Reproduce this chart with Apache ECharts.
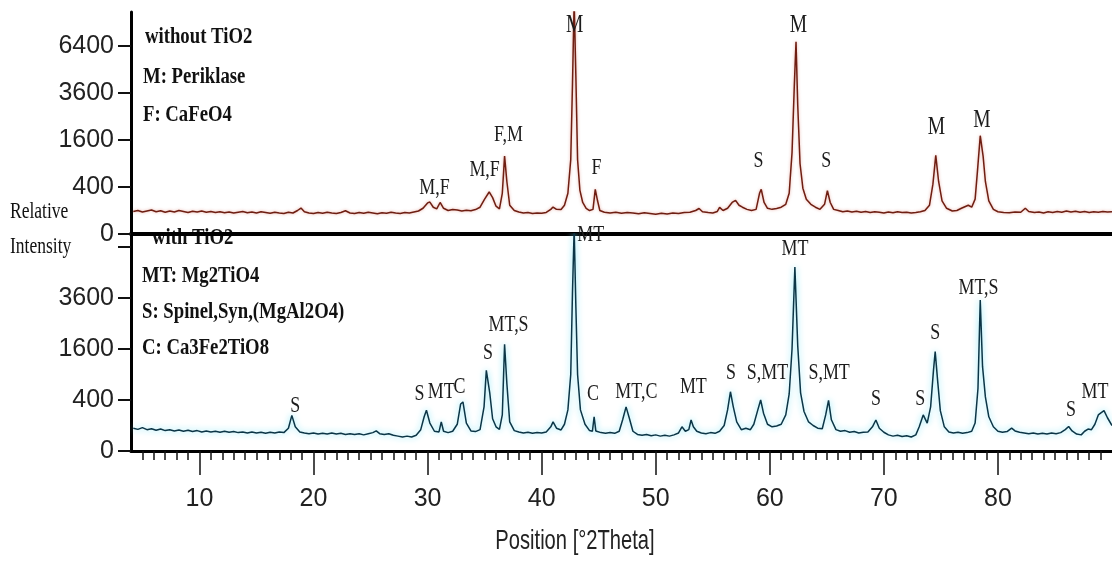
<!DOCTYPE html>
<html>
<head>
<meta charset="utf-8">
<script src="https://cdn.jsdelivr.net/npm/echarts@6/dist/echarts.min.js"></script>
<style>
html,body{margin:0;padding:0;background:#fff;}
#c{width:1112px;height:565px;}
</style>
</head>
<body>
<div id="c"></div>
<script>
// ---- data: [2Theta, counts] ----
const withoutTiO2 = [[4.2,92],[4.6,100],[5.0,88],[5.4,96],[5.8,104],[6.2,90],[6.6,98],[7.0,86],[7.4,95],[7.8,88],[8.2,100],[8.6,92],[9.0,84],[9.4,94],[9.8,88],[10.2,96],[10.6,86],[11.0,92],[11.4,84],[11.8,90],[12.2,82],[12.6,88],[13.0,80],[13.4,86],[13.8,92],[14.2,82],[14.6,88],[15.0,80],[15.4,90],[15.8,84],[16.2,78],[16.6,86],[17.0,80],[17.4,76],[17.8,86],[18.2,80],[18.6,100],[18.9,122],[19.2,90],[19.6,80],[20.0,76],[20.4,84],[20.8,78],[21.2,86],[21.6,80],[22.0,76],[22.4,84],[22.8,98],[23.2,80],[23.6,76],[24.0,84],[24.4,78],[24.8,86],[25.2,80],[25.6,74],[26.0,82],[26.4,78],[26.8,86],[27.2,80],[27.6,76],[28.0,84],[28.4,80],[28.8,88],[29.2,96],[29.6,120],[30.0,175],[30.2,185],[30.5,130],[30.8,115],[31.1,180],[31.4,120],[31.8,100],[32.2,108],[32.6,104],[33.0,96],[33.4,102],[33.8,98],[34.2,108],[34.6,130],[35.0,220],[35.4,320],[35.7,240],[36.0,140],[36.3,115],[36.55,300],[36.75,1100],[36.95,500],[37.2,150],[37.6,100],[38.0,88],[38.4,80],[38.8,84],[39.2,76],[39.6,80],[40.0,78],[40.4,84],[40.8,110],[41.0,132],[41.3,110],[41.7,108],[42.0,150],[42.3,300],[42.55,1000],[42.7,4000],[42.85,9800],[43.0,4500],[43.15,1000],[43.35,350],[43.6,180],[43.9,120],[44.2,100],[44.5,110],[44.7,360],[44.9,200],[45.1,100],[45.5,86],[46.0,80],[46.5,86],[47.0,78],[47.5,84],[48.0,80],[48.5,74],[49.0,82],[49.5,76],[50.0,70],[50.5,78],[51.0,72],[51.5,80],[52.0,76],[52.5,84],[53.0,86],[53.5,100],[53.8,118],[54.1,90],[54.6,84],[55.0,80],[55.4,92],[55.6,128],[55.9,100],[56.3,120],[56.7,180],[57.0,205],[57.3,150],[57.6,130],[58.0,110],[58.4,100],[58.8,110],[59.1,300],[59.25,360],[59.5,180],[59.8,120],[60.2,110],[60.6,118],[61.0,130],[61.4,160],[61.7,300],[61.95,1200],[62.15,4000],[62.3,6700],[62.45,3000],[62.65,900],[62.9,380],[63.2,220],[63.6,160],[64.0,130],[64.4,110],[64.8,160],[65.05,340],[65.3,180],[65.6,110],[66.0,100],[66.4,90],[66.8,96],[67.2,88],[67.6,94],[68.0,86],[68.4,92],[68.8,84],[69.2,90],[69.6,86],[70.0,80],[70.4,88],[70.8,82],[71.2,90],[71.6,84],[72.0,86],[72.4,80],[72.8,84],[73.2,90],[73.6,100],[74.0,150],[74.3,450],[74.55,1120],[74.8,500],[75.1,200],[75.5,120],[76.0,96],[76.4,100],[76.8,120],[77.1,135],[77.4,150],[77.7,130],[78.0,220],[78.2,700],[78.45,1750],[78.7,1100],[78.9,500],[79.2,200],[79.6,110],[80.0,90],[80.5,84],[81.0,82],[81.5,88],[82.0,86],[82.4,120],[82.7,92],[83.2,84],[83.6,88],[84.0,80],[84.4,90],[84.8,84],[85.2,92],[85.6,86],[86.0,96],[86.4,88],[86.8,94],[87.2,86],[87.6,92],[88.0,84],[88.4,90],[88.8,86],[89.2,92],[89.6,88],[90.0,90]];

const withTiO2 = [[4.2,80],[4.6,72],[5.0,84],[5.4,70],[5.8,76],[6.2,66],[6.6,74],[7.0,64],[7.4,70],[7.8,62],[8.2,68],[8.6,60],[9.0,66],[9.4,58],[9.8,64],[10.2,56],[10.6,62],[11.0,56],[11.4,60],[11.8,54],[12.2,60],[12.6,54],[13.0,58],[13.4,52],[13.8,56],[14.2,50],[14.6,56],[15.0,50],[15.4,54],[15.8,48],[16.2,54],[16.6,50],[17.0,56],[17.4,52],[17.8,80],[18.1,195],[18.4,90],[18.8,56],[19.2,50],[19.6,46],[20.0,50],[20.4,44],[20.8,48],[21.2,44],[21.6,50],[22.0,44],[22.4,48],[22.8,42],[23.2,46],[23.6,42],[24.0,46],[24.4,40],[24.8,46],[25.2,52],[25.5,62],[25.8,46],[26.2,42],[26.6,46],[27.0,38],[27.4,34],[27.8,30],[28.2,34],[28.6,30],[29.0,38],[29.4,70],[29.7,180],[29.9,255],[30.2,120],[30.6,60],[31.0,56],[31.2,130],[31.4,60],[31.8,52],[32.2,60],[32.6,110],[32.9,340],[33.1,370],[33.4,120],[33.8,62],[34.2,58],[34.6,70],[34.95,300],[35.15,1000],[35.45,520],[35.7,160],[36.0,90],[36.3,72],[36.55,200],[36.75,1750],[36.95,700],[37.2,130],[37.6,64],[38.0,56],[38.4,50],[38.8,54],[39.2,48],[39.6,52],[40.0,50],[40.4,56],[40.8,90],[41.0,130],[41.3,80],[41.7,68],[42.0,110],[42.3,260],[42.55,900],[42.7,3800],[42.85,7600],[43.0,3200],[43.15,900],[43.4,260],[43.8,110],[44.2,64],[44.45,60],[44.6,180],[44.75,62],[45.2,52],[45.6,48],[46.0,52],[46.4,48],[46.8,60],[47.1,150],[47.4,300],[47.7,160],[48.0,60],[48.4,42],[48.8,38],[49.2,42],[49.6,36],[50.0,40],[50.4,34],[50.8,38],[51.2,34],[51.6,40],[52.0,50],[52.3,90],[52.6,60],[52.9,70],[53.1,148],[53.3,90],[53.6,60],[54.0,50],[54.4,46],[54.8,52],[55.2,48],[55.6,60],[56.0,100],[56.3,260],[56.55,540],[56.8,300],[57.1,130],[57.5,70],[57.9,80],[58.3,70],[58.6,110],[58.95,260],[59.2,400],[59.45,220],[59.8,110],[60.2,90],[60.6,96],[61.0,110],[61.4,200],[61.7,500],[61.95,1600],[62.2,5200],[62.45,1700],[62.7,520],[63.0,240],[63.4,130],[63.8,100],[64.2,80],[64.6,76],[64.9,200],[65.15,395],[65.4,150],[65.8,70],[66.2,60],[66.6,64],[67.0,54],[67.4,58],[67.8,50],[68.2,54],[68.6,56],[69.0,90],[69.3,148],[69.6,80],[70.0,54],[70.4,40],[70.8,34],[71.2,38],[71.6,32],[72.0,36],[72.4,30],[72.8,40],[73.1,90],[73.45,200],[73.8,120],[74.1,300],[74.35,1000],[74.5,1520],[74.7,800],[74.95,250],[75.3,90],[75.7,56],[76.1,50],[76.5,54],[76.9,48],[77.3,52],[77.7,60],[78.0,120],[78.25,600],[78.45,3500],[78.65,1100],[78.9,450],[79.2,180],[79.6,90],[80.0,60],[80.4,54],[80.8,58],[81.2,80],[81.5,62],[81.9,54],[82.3,50],[82.7,46],[83.1,50],[83.5,44],[83.9,48],[84.3,44],[84.7,50],[85.1,46],[85.5,52],[85.9,70],[86.2,92],[86.5,62],[86.9,44],[87.3,40],[87.6,60],[87.9,74],[88.2,70],[88.5,110],[88.8,200],[89.0,220],[89.3,250],[89.6,170],[90.0,100]];

// peak labels: [2Theta, counts at label centre, text]
const topLabels = [[30.6,383,'M,F'],[35.0,742,'M,F'],[37.1,1775,'F,M'],[42.9,7910,'M'],[44.8,789,'F'],[59.0,965,'S'],[62.5,7910,'M'],[64.95,965,'S'],[74.6,2073,'M'],[78.6,2353,'M']];
const bottomLabels = [[18.4,311,'S'],[29.3,508,'S'],[31.2,535,'MT'],[32.8,640,'C'],[35.3,1492,'S'],[37.1,2441,'MT,S'],[44.3,7150,'MT'],[44.5,500,'C'],[48.3,535,'MT,C'],[53.3,630,'MT'],[56.6,936,'S'],[59.8,936,'S,MT'],[62.2,6275,'MT'],[65.2,936,'S,MT'],[69.3,416,'S'],[73.2,416,'S'],[74.5,2160,'S'],[78.3,4111,'MT,S'],[86.4,258,'S'],[88.5,535,'MT']];

const topLegend = ['without TiO2','M: Periklase','F: CaFeO4'];
const bottomLegend = ['with TiO2','MT: Mg2TiO4','S: Spinel,Syn,(MgAl2O4)','C: Ca3Fe2TiO8'];

const yTickCounts = [0,400,1600,3600,6400];      // square-root axis
const yLabelTop = [0,400,1600,3600,6400];
const yLabelBottom = [0,400,1600,3600];
const xMajor = [10,20,30,40,50,60,70,80];
const xMin = 4, xMax = 90;

// ---- build ----
const sq = v => Math.sqrt(v);
const xMinor = [];
for (let v = 5; v < xMax; v++) if (v % 10 !== 0) xMinor.push(v);

const SANS = "'Liberation Sans',Arial,sans-serif";
const SERIF = "'Liberation Serif','Times New Roman',serif";

function labelSeries(labels, gi) {
  return {
    type: 'custom', xAxisIndex: gi === 0 ? 0 : 1, yAxisIndex: gi, silent: true, clip: false, z: 5,
    data: labels.map(l => [l[0], sq(l[1])]),
    renderItem: function (params, api) {
      const p = api.coord([api.value(0), api.value(1)]);
      const t = labels[params.dataIndex][2];
      const big = gi === 0 && t === 'M' && labels[params.dataIndex][1] > 2000;
      return {
        type: 'text', x: p[0], y: p[1], scaleX: 0.78,
        style: { text: t, fill: '#1c1c1c', font: (big ? 25 : 23) + 'px ' + SERIF, align: 'center', verticalAlign: 'middle' }
      };
    }
  };
}

function yAxis(gi, max, labelVals) {
  return {
    type: 'value', gridIndex: gi, min: 0, max: max,
    axisLine: { show: true, lineStyle: { color: '#000', width: 3 } },
    axisTick: { show: true, length: 13, lineStyle: { color: '#111', width: 2 }, customValues: yTickCounts.map(sq) },
    axisLabel: { show: true, customValues: labelVals.map(sq), formatter: v => String(Math.round(v * v)),
      fontFamily: SANS, fontSize: 25, color: '#222', margin: 17 },
    splitLine: { show: false }
  };
}

function legendTexts(lines, x0, ys) {
  return lines.map((t, i) => ({
    type: 'text', x: (i === 0 ? x0[0] : x0[1]), y: ys[i], scaleX: 0.78,
    style: { text: t, font: 'bold 24px ' + SERIF, fill: '#111', align: 'left', verticalAlign: 'middle' }
  }));
}

const chart = echarts.init(document.getElementById('c'), null, { renderer: 'canvas' });
chart.setOption({
  animation: false,
  backgroundColor: '#fff',
  grid: [
    { left: 131, width: 991, top: 12, height: 222 },
    { left: 131, width: 991, top: 234, height: 217 }
  ],
  xAxis: [
    { type: 'value', gridIndex: 0, min: xMin, max: xMax, position: 'top',
      axisLine: { show: true, lineStyle: { color: '#000', width: 4 } },
      axisTick: { show: false }, axisLabel: { show: false }, splitLine: { show: false } },
    { type: 'value', gridIndex: 1, min: xMin, max: xMax, position: 'bottom',
      axisLine: { show: true, lineStyle: { color: '#000', width: 3 } },
      axisTick: { show: true, length: 24, lineStyle: { color: '#111', width: 1.5 }, customValues: xMajor },
      axisLabel: { show: true, customValues: xMajor, fontFamily: SANS, fontSize: 25, color: '#222', margin: 36 },
      splitLine: { show: false } },
    { type: 'value', gridIndex: 1, min: xMin, max: xMax, position: 'bottom',
      axisLine: { show: false },
      axisTick: { show: true, length: 9, lineStyle: { color: '#111', width: 1.5 }, customValues: xMinor },
      axisLabel: { show: false }, splitLine: { show: false } }
  ],
  yAxis: [ yAxis(0, 94.5, yLabelTop), yAxis(1, 85.1, yLabelBottom) ],
  series: [
    { type: 'line', xAxisIndex: 0, yAxisIndex: 0, showSymbol: false, silent: true,
      data: withoutTiO2.map(d => [d[0], sq(d[1])]),
      lineStyle: { color: '#6e1e12', width: 1.5, shadowColor: 'rgba(210,90,70,0.5)', shadowBlur: 3 } },
    { type: 'line', xAxisIndex: 1, yAxisIndex: 1, showSymbol: false, silent: true,
      data: withTiO2.map(d => [d[0], sq(d[1])]),
      lineStyle: { color: '#0c3546', width: 1.5, shadowColor: 'rgba(110,225,245,0.95)', shadowBlur: 6 } },
    labelSeries(topLabels, 0),
    labelSeries(bottomLabels, 1)
  ],
  graphic: [].concat(
    legendTexts(topLegend, [145, 143], [37, 77, 115]),
    legendTexts(bottomLegend, [152, 142], [238, 276, 312, 348]),
    [
      { type: 'text', x: 10, y: 212, scaleX: 0.73, style: { text: 'Relative', font: '24px ' + SERIF, fill: '#111', align: 'left', verticalAlign: 'middle' } },
      { type: 'text', x: 10, y: 247, scaleX: 0.73, style: { text: 'Intensity', font: '24px ' + SERIF, fill: '#111', align: 'left', verticalAlign: 'middle' } },
      { type: 'text', x: 575, y: 541, scaleX: 0.72, style: { text: 'Position [°2Theta]', font: '28px ' + SANS, fill: '#222', align: 'center', verticalAlign: 'middle' } }
    ]
  )
});
</script>
</body>
</html>
